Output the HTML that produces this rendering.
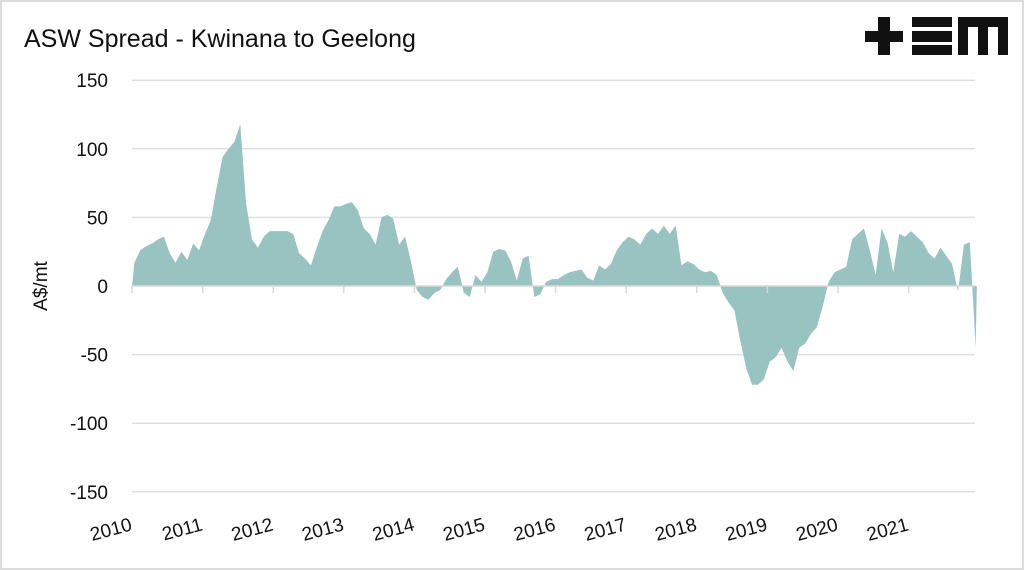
<!DOCTYPE html>
<html><head><meta charset="utf-8"><style>
html,body{margin:0;padding:0;background:#fff;}
body{width:1024px;height:570px;overflow:hidden;font-family:"Liberation Sans",sans-serif;}
#frame{position:absolute;left:0;top:0;width:1020px;height:566px;border:2px solid #dcdcdc;}
</style></head><body>
<div id="frame"></div>
<svg id="chart" width="1024" height="570" style="position:absolute;left:0;top:0">
  <text x="24" y="47" font-size="25" fill="#111">ASW Spread - Kwinana to Geelong</text>
  <g fill="#111">
    <rect x="865" y="31" width="38" height="11"/><rect x="878" y="17" width="12" height="38"/>
    <rect x="912" y="17" width="40" height="10"/><rect x="912" y="31" width="40" height="11"/><rect x="912" y="45" width="40" height="10"/>
    <rect x="958" y="17" width="50" height="10"/><rect x="958" y="17" width="10" height="38"/><rect x="978" y="17" width="10" height="38"/><rect x="998" y="17" width="10" height="38"/>
  </g>
  <text transform="translate(47,286) rotate(-90)" text-anchor="middle" font-size="19" fill="#111">A$/mt</text>
  <g id="grid"></g><g id="area"></g><g id="zero"></g><g id="ylabels"></g><g id="xlabels"></g>
</svg>
<script>
const yTicks=[150,100,50,0,-50,-100,-150];
const years=[2010,2011,2012,2013,2014,2015,2016,2017,2018,2019,2020,2021];
const startYear=2010;
const v2010=[17,26,29,31,34,36,24,17,25,19,31,26];
const v2011=[38,48,72,94,100,105,118,60,34,28,36,40];
const v2012=[40,40,40,38,24,20,15,28,40,48,58,58];
const v2013=[60,61,55,42,38,30,50,52,49,30,36,18];
const v2014=[-3,-8,-10,-5,-3,5,10,14,-5,-8,8,3];
const v2015=[10,25,27,26,18,4,20,22,-8,-6,3,5];
const v2016=[5,8,10,11,12,6,4,15,12,16,26,32];
const v2017=[36,34,30,38,42,38,44,38,44,15,18,16];
const v2018=[12,10,11,8,-5,-12,-18,-40,-60,-72,-72,-68];
const v2019=[-55,-52,-45,-55,-62,-45,-42,-35,-30,-15,3,10];
const v2020=[12,14,34,38,42,26,8,42,32,10,38,36];
const v2021=[40,36,32,24,20,28,22,16,-4,30,32,-45];
const series=[].concat(v2010,v2011,v2012,v2013,v2014,v2015,v2016,v2017,v2018,v2019,v2020,v2021);
const NS="http://www.w3.org/2000/svg";
const x0=132,pxYear=70.6,y0=286,pxUnit=68.6/50;
const xs=t=>x0+(t-startYear)*pxYear;
const ys=v=>y0-v*pxUnit;
const grid=document.getElementById('grid'),yl=document.getElementById('ylabels');
yTicks.forEach(v=>{
  if(v!==0){const l=document.createElementNS(NS,'line');
  l.setAttribute('x1',132);l.setAttribute('x2',975);l.setAttribute('y1',ys(v));l.setAttribute('y2',ys(v));
  l.setAttribute('stroke','#e0e0e0');l.setAttribute('stroke-width','1.5');
  
  
  grid.appendChild(l);}
  const t=document.createElementNS(NS,'text');
  t.setAttribute('x',108);t.setAttribute('y',ys(v)+7);t.setAttribute('text-anchor','end');
  t.setAttribute('font-size','19');t.setAttribute('fill','#111');t.textContent=v;
  
  
  yl.appendChild(t);
});
let d='M'+xs(startYear)+','+ys(0);
series.forEach((v,i)=>{const t=startYear+(i+0.4)/12;d+=' L'+xs(t).toFixed(1)+','+ys(v).toFixed(1);});
d+=' L'+xs(startYear+(series.length-0.4)/12)+','+ys(0)+' Z';
const p=document.createElementNS(NS,'path');
p.setAttribute('d',d);p.setAttribute('fill','#98c3c1');


document.getElementById('area').appendChild(p);
const z=document.getElementById('zero');
const zl=document.createElementNS(NS,'line');
zl.setAttribute('x1',132);zl.setAttribute('x2',975);zl.setAttribute('y1',y0);zl.setAttribute('y2',y0);
zl.setAttribute('stroke','#d8d8d8');zl.setAttribute('stroke-width','1.5');


z.appendChild(zl);
const xl=document.getElementById('xlabels');
years.forEach(y=>{
  const tk=document.createElementNS(NS,'line');
  tk.setAttribute('x1',xs(y));tk.setAttribute('x2',xs(y));tk.setAttribute('y1',y0);tk.setAttribute('y2',y0+7);
  tk.setAttribute('stroke','#d8d8d8');tk.setAttribute('stroke-width','1.5');
  
  
  z.appendChild(tk);
  const t=document.createElementNS(NS,'text');
  t.setAttribute('transform','translate('+(xs(y)+1)+',530) rotate(-15)');
  t.setAttribute('text-anchor','end');t.setAttribute('font-size','19');t.setAttribute('fill','#111');
  t.textContent=y;
  
  
  xl.appendChild(t);
});
</script>
</body></html>
